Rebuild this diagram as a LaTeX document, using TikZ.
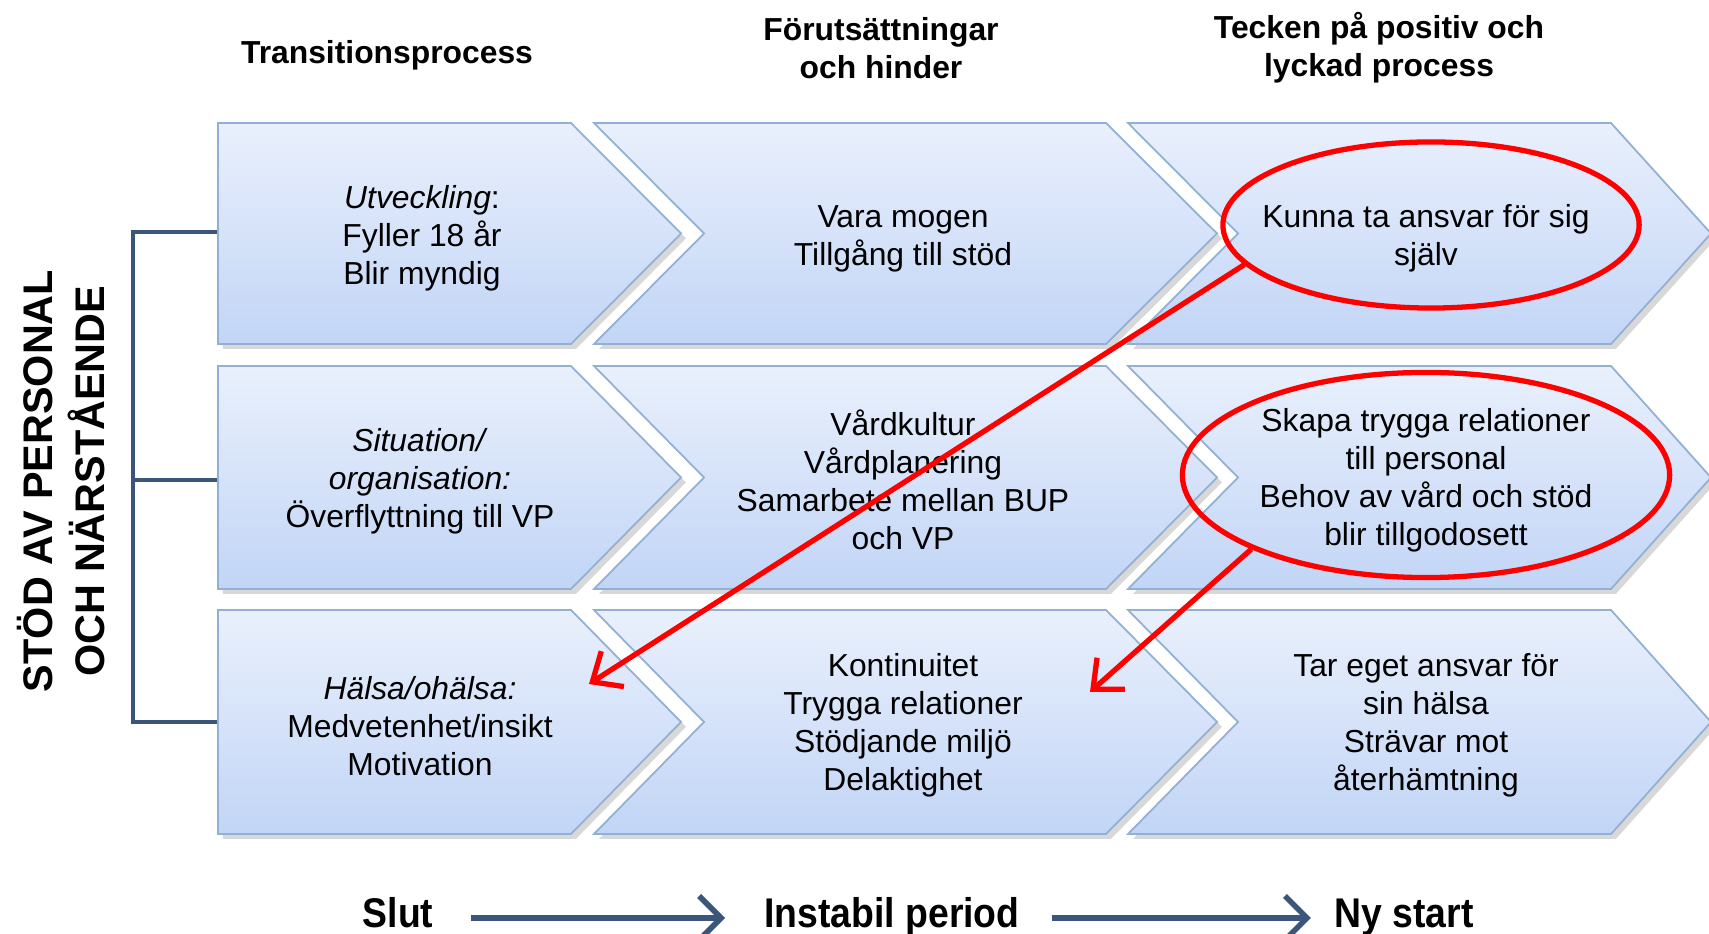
\documentclass[tikz,border=0pt]{standalone}
\usepackage{fontspec}
\setmainfont{Liberation Sans}
\usetikzlibrary{arrows.meta,shapes.geometric,shadows}

\definecolor{ljusbla}{RGB}{233,240,252}
\definecolor{mellanbla}{RGB}{194,213,246}
\definecolor{kant}{RGB}{146,175,212}
\definecolor{morkbla}{RGB}{60,85,122}

\begin{document}
\begin{tikzpicture}[x=0.01cm, y=-0.01cm,
% Stil för pilformerna
chev/.style={draw=kant, line width=0.5pt, top color=ljusbla, bottom color=mellanbla,
  drop shadow={opacity=0.3, shadow xshift=1.4pt, shadow yshift=-1.4pt}},
% Stil för texterna
txt/.style={align=center, inner sep=0pt, font=\fontsize{9.05}{10.8}\selectfont},
rubrik/.style={txt, font=\fontsize{9.05}{10.8}\selectfont\bfseries},
botttxt/.style={inner sep=0pt, xscale=0.9, text height=0.75em, text depth=0.2em,
  font=\fontsize{11.8}{14}\selectfont\bfseries},
% Stil för ringar och pilar
ring/.style={ellipse, draw=red, line width=1.5pt, inner sep=0pt},
rodpil/.style={-{Straight Barb[length=2.4mm, width=4.2mm]}, draw=red, line width=1.5pt},
blapil/.style={-{Straight Barb[length=2.2mm, width=4.4mm]}, draw=morkbla, line width=1.6pt},
klammer/.style={draw=morkbla, line width=1.3pt},
]
\path[use as bounding box, fill=white] (0,0) rectangle (1709,934);

% Rubriker
\node (r1) at (387,55) [rubrik] {Transitionsprocess};
\node (r2) at (881,48) [rubrik] {Förutsättningar\\och hinder};
\node (r3) at (1379,48) [rubrik] {Tecken på positiv och\\lyckad process};

% Klammer
\coordinate (v1) at (218,232);
\coordinate (v2) at (218,480);
\coordinate (v3) at (218,722);
\draw[klammer] (v1) -- ++(-85,0) |- (v3);
\draw[klammer] (v2) -- ++(-85,0);
\node (stod) at (61,481) [rotate=90, align=center, inner sep=0pt,
  font=\fontsize{11.76}{14.6}\selectfont\bfseries] {STÖD AV PERSONAL\\OCH NÄRSTÅENDE};

% Pilformer
\path[chev] (218,123) -- (571,123) -- (681,233.5) -- (571,344) -- (218,344) -- cycle;
\path[chev] (594,123) -- (1106,123) -- (1217,233.5) -- (1106,344) -- (594,344) -- (704,233.5) -- cycle;
\path[chev] (1128,123) -- (1611,123) -- (1711,233.5) -- (1611,344) -- (1128,344) -- (1238,233.5) -- cycle;
\path[chev] (218,366) -- (571,366) -- (681,477.5) -- (571,589) -- (218,589) -- cycle;
\path[chev] (594,366) -- (1106,366) -- (1217,477.5) -- (1106,589) -- (594,589) -- (704,477.5) -- cycle;
\path[chev] (1128,366) -- (1611,366) -- (1711,477.5) -- (1611,589) -- (1128,589) -- (1238,477.5) -- cycle;
\path[chev] (218,610) -- (571,610) -- (681,722) -- (571,834) -- (218,834) -- cycle;
\path[chev] (594,610) -- (1106,610) -- (1217,722) -- (1106,834) -- (594,834) -- (704,722) -- cycle;
\path[chev] (1128,610) -- (1611,610) -- (1711,722) -- (1611,834) -- (1128,834) -- (1238,722) -- cycle;

% Texter
\node (u1) at (422,238) [txt] {\textit{Utveckling}:\\Fyller 18 år\\Blir myndig};
\node (u2) at (903,239) [txt] {Vara mogen\\Tillgång till stöd};
\node (u3) at (1426,238) [txt] {Kunna ta ansvar för sig\\själv};
\node (s1) at (420,481) [txt] {\textit{Situation/}\\\textit{organisation:}\\Överflyttning till VP};
\node (s2) at (903,480) [txt] {Vårdkultur\\Vårdplanering\\Samarbete mellan BUP\\och VP};
\node (s3) at (1426,480) [txt] {Skapa trygga relationer\\till personal\\Behov av vård och stöd\\blir tillgodosett};
\node (h1) at (420,726) [txt] {\textit{Hälsa/ohälsa:}\\Medvetenhet/insikt\\Motivation};
\node (h2) at (903,725) [txt] {Kontinuitet\\Trygga relationer\\Stödjande miljö\\Delaktighet};
\node (h3) at (1426,725) [txt] {Tar eget ansvar för\\sin hälsa\\Strävar mot\\återhämtning};

% Ringar och röda pilar
\node (e1) at (1431,225) [ring, minimum width=4.16cm, minimum height=1.66cm] {};
\node (e2) at (1426,475) [ring, minimum width=4.87cm, minimum height=2.05cm] {};
\coordinate (m1) at (589,684);
\coordinate (m2) at (1090,692);
\draw[rodpil] (e1.192) -- (m1);
\draw[rodpil] (e2.203) -- (m2);

% Tidslinje
\node (slut) at (398,918) [botttxt] {Slut};
\node (inst) at (892,918) [botttxt] {Instabil period};
\node (ny) at (1404,918) [botttxt] {Ny start};
\draw[blapil, shorten <=10.5pt, shorten >=11pt] (slut) -- (inst);
\draw[blapil, shorten <=9pt, shorten >=6.5pt] (inst) -- (ny);
\end{tikzpicture}
\end{document}
